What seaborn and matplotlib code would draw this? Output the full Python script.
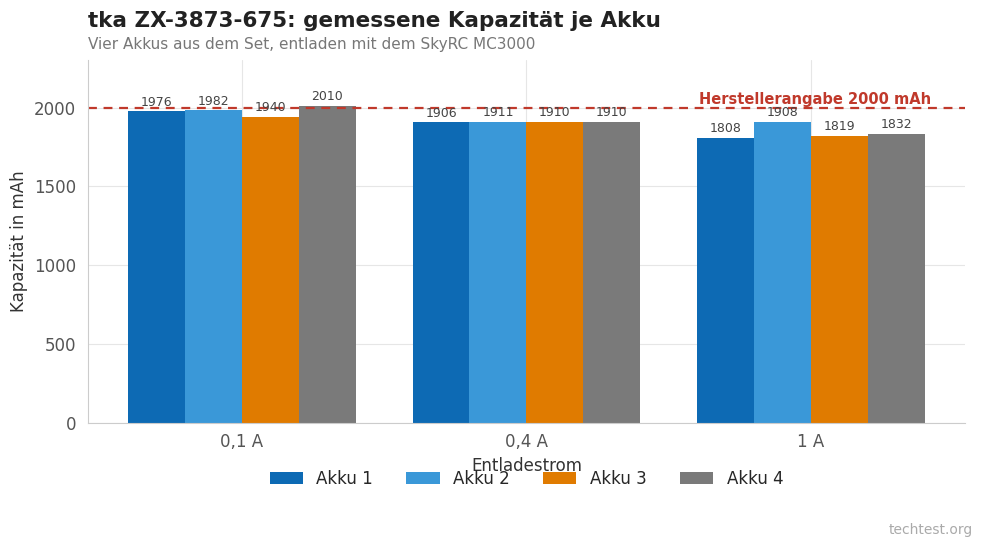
import pandas as pd
import numpy as np
import matplotlib.pyplot as plt
import seaborn as sns

# Messwerte je Entladestrom
currents = ['0,1 A', '0,4 A', '1 A']
akkus = ['Akku 1', 'Akku 2', 'Akku 3', 'Akku 4']
akku1 = [1976, 1906, 1808]
akku2 = [1982, 1911, 1908]
akku3 = [1940, 1910, 1819]
akku4 = [2010, 1910, 1832]
rated = 2000

colors = ['#0d6ab4', '#3a98d8', '#e07b00', '#7a7a7a']

df = pd.DataFrame({
    'Entladestrom': currents * 4,
    'Akku': [a for a in akkus for _ in currents],
    'mAh': akku1 + akku2 + akku3 + akku4,
})

sns.set_style('whitegrid')
plt.rcParams['font.family'] = ['DejaVu Sans']

fig = plt.figure(figsize=(9.83, 5.48), dpi=100)
ax = fig.add_axes([0.0895, 0.228, 0.892, 0.662])

sns.barplot(data=df, x='Entladestrom', y='mAh', hue='Akku', palette=colors,
            width=0.8, saturation=1, linewidth=0, ax=ax, legend=True)

for cont in ax.containers:
    ax.bar_label(cont, fmt='%d', padding=2, fontsize=9, color='#444444')

ax.axhline(rated, color='#c0392b', linestyle='--', linewidth=1.6, dashes=(4, 3))
ax.text(2.42, rated + 5, 'Herstellerangabe 2000 mAh', color='#c0392b',
        fontsize=10.5, fontweight='bold', ha='right', va='bottom')

ax.set_xlim(-0.54, 2.54)
ax.set_ylim(0, 2300)
ax.set_yticks([0, 500, 1000, 1500, 2000])
ax.grid(True, color='#e6e6e6', linewidth=0.8)
ax.set_axisbelow(True)
ax.set_xlabel('Entladestrom', fontsize=12, color='#333333', labelpad=4)
ax.set_ylabel('Kapazität in mAh', fontsize=12, color='#333333', labelpad=4)
ax.tick_params(axis='both', labelsize=12, colors='#555555', length=4)
ax.tick_params(axis='x', length=4, color='#bbbbbb')
ax.tick_params(axis='y', length=0, pad=8.5)
for s in ['top', 'right']:
    ax.spines[s].set_visible(False)
for s in ['left', 'bottom']:
    ax.spines[s].set_color('#cccccc')

ax.legend(loc='upper center', bbox_to_anchor=(0.5, -0.088), ncol=4, frameon=False,
          fontsize=12, handlelength=2.0, handleheight=0.7, columnspacing=2.0)

fig.text(0.0895, 0.962, 'tka ZX-3873-675: gemessene Kapazität je Akku', fontsize=15.5,
         fontweight='bold', color='#222222', va='center')
fig.text(0.0895, 0.918, 'Vier Akkus aus dem Set, entladen mit dem SkyRC MC3000', fontsize=11,
         color='#777777', va='center')
fig.text(0.99, 0.032, 'techtest.org', fontsize=10, color='#aaaaaa', ha='right', va='center')

fig.savefig('out.png', dpi=100)
